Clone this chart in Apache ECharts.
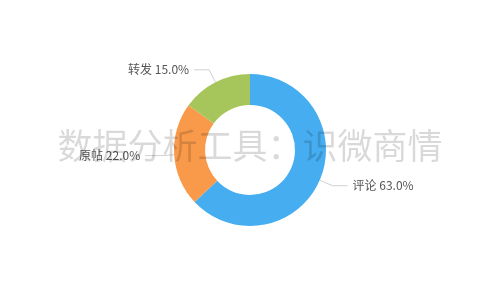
<!DOCTYPE html>
<html>
<head>
<meta charset="utf-8">
<script src="https://cdn.jsdelivr.net/npm/echarts@6/dist/echarts.min.js"></script>
<style>html,body{margin:0;padding:0;background:#fff}#c{width:500px;height:300px}</style>
</head>
<body>
<div id="c"></div>
<script>
var categories = ['评论', '原帖', '转发'];
var values = [63.0, 22.0, 15.0];
var colors = ['#45adf0', '#f99a4b', '#a6c55a'];
var watermark = '数据分析工具：识微商情';

var chart = echarts.init(document.getElementById('c'), null, {renderer: 'canvas'});
chart.setOption({
  animation: false,
  color: colors,
  graphic: [{
    type: 'text',
    left: 'center',
    top: 128,
    z: 100,
    silent: true,
    style: {
      text: watermark,
      fontSize: 35,
      fontFamily: 'Noto Sans CJK SC',
      fill: 'rgba(0,0,0,0.15)'
    }
  }],
  series: [{
    type: 'pie',
    center: [250, 150],
    radius: [45, 76],
    startAngle: 90,
    data: categories.map(function (c, i) { return {name: c, value: values[i]}; }),
    label: {
      formatter: function (p) { return p.name + ' ' + p.value.toFixed(1) + '%'; },
      color: '#555',
      fontSize: 12,
      fontFamily: 'Noto Sans CJK SC'
    },
    labelLine: {
      length: 14,
      length2: 15,
      lineStyle: {color: '#d0d0d0', width: 1}
    }
  }]
});
</script>
</body>
</html>
